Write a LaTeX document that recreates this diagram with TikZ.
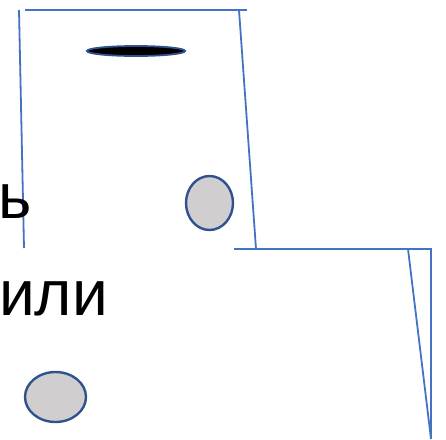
\documentclass[tikz,border=0pt]{standalone}
\usepackage{fontspec}
\setmainfont{Liberation Sans}
\usetikzlibrary{positioning, shapes.geometric}
\definecolor{wallblue}{HTML}{4472C4}
\definecolor{rimblue}{HTML}{2F528F}
\definecolor{ballgrey}{HTML}{D0CECE}

\begin{document}
\begin{tikzpicture}[
  x=1pt, y=-1pt,
  wall/.style={draw=wallblue, line width=1.8pt},
  ball/.style={ellipse, draw=rimblue, line width=2.4pt, fill=ballgrey, inner sep=0pt},
  word/.style={font=\fontsize{64}{72}\selectfont, inner sep=0pt}]
  \useasboundingbox (0,0) rectangle (446,439);
  \clip (0,0) rectangle (446,439);
  % upper box
  \draw[wall] (25,10) -- (247,10);
  \draw[wall] (19,10) -- (24,248);
  \draw[wall] (239,10) -- (256,249);
  % lower step
  \draw[wall] (234,249) -- (431,249) -- (431,439);
  \draw[wall] (408,249) -- (431,439);
  % slot and balls
  \node[ellipse, draw=rimblue, line width=1.8pt, fill=black, minimum width=98pt, minimum height=10pt, inner sep=0pt] (slot) at (136,51) {};
  \node[ball, minimum width=47pt, minimum height=54pt] (ballup) at (209.5,203) {};
  \node[ball, minimum width=61pt, minimum height=50pt] (balldown) at (55.5,397) {};
  % words
  \node[word, anchor=base east] (tail) at (32,218) {ь};
  \node[word, anchor=base west] (ili) at (-1,315) {или};
\end{tikzpicture}
\end{document}
